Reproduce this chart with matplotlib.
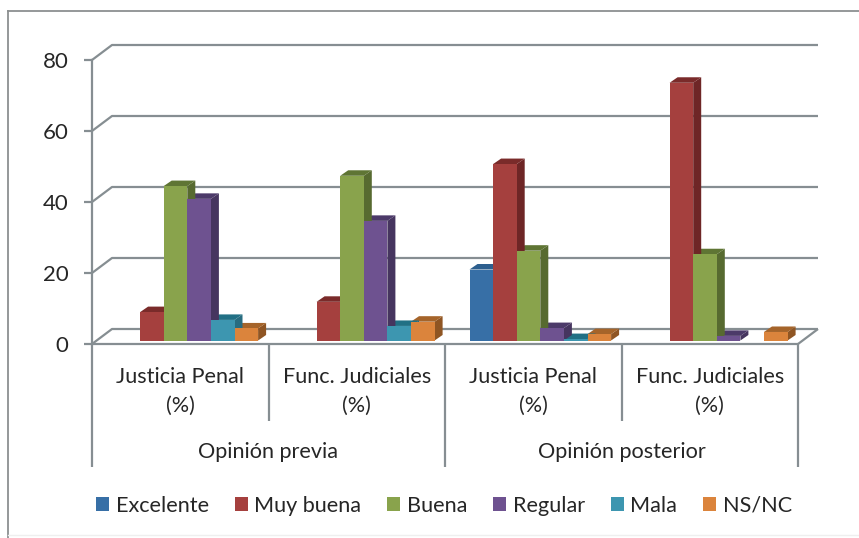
"""Opinion bars with a fake Excel-style 3D look, redrawn on a flat matplotlib axes."""

import matplotlib

matplotlib.use("Agg")
import matplotlib.pyplot as plt
from matplotlib.lines import Line2D
from matplotlib.patches import Patch

W, H = 859, 538

groups = ["Opinión previa", "Opinión posterior"]
categories = ["Justicia Penal\n(%)", "Func. Judiciales\n(%)", "Justicia Penal\n(%)", "Func. Judiciales\n(%)"]
series = ["Excelente", "Muy buena", "Buena", "Regular", "Mala", "NS/NC"]

excelente = [0, 0, 20.0, 0]
muy_buena = [8.0, 10.9, 49.7, 72.6]
buena = [43.5, 46.4, 25.3, 24.3]
regular = [39.9, 33.7, 3.5, 1.3]
mala = [5.8, 4.1, 0.4, 0]
ns_nc = [3.4, 5.3, 1.8, 2.4]
values = [excelente, muy_buena, buena, regular, mala, ns_nc]

yticks = [0, 20, 40, 60, 80]

FRONT = ["#376FA6", "#A5403E", "#89A34C", "#6E5290", "#3D96B0", "#DB843C"]
SIDE = ["#28527A", "#6E2626", "#576A30", "#46355F", "#286C80", "#8F5523"]
TOP = ["#2D5F8E", "#7A2B2A", "#5F7534", "#4C3A69", "#217085", "#A5642A"]
GRID = "#868E92"
TEXT = "#262626"

plt.rcParams["font.family"] = ["Lato", "DejaVu Sans"]
plt.rcParams["font.size"] = 15.6

X0, X1, Y0, Y1 = 92, 798, 344, 60  # plot box, in image pixels
CAT_PX = (X1 - X0) / len(categories)
UNIT_PX = (Y0 - Y1) / 80


def py(y):
    return (Y0 - y) / UNIT_PX


fig = plt.figure(figsize=(W / 100, H / 100), dpi=100)
ax = fig.add_axes([X0 / W, 1 - Y0 / H, (X1 - X0) / W, (Y0 - Y1) / H])
ax.set_xlim(0, len(categories))
ax.set_ylim(0, 80)
ax.patch.set_alpha(0)
for s in ("top", "right", "bottom"):
    ax.spines[s].set_visible(False)
ax.spines["left"].set(color=GRID, linewidth=1.6)
ax.set_xticks([])
ax.set_yticks(yticks)
ax.tick_params(axis="y", length=5.8, width=1.6, color=GRID, pad=11, labelsize=16, labelcolor=TEXT)

# outer chart frame
frame = dict(color="#8C9091", linewidth=1.3, transform=fig.transFigure)
fig.add_artist(Line2D([8 / W, 1], [1 - 11 / H, 1 - 11 / H], **frame))
fig.add_artist(Line2D([8 / W, 8 / W], [0, 1 - 11 / H], **frame))
fig.add_artist(Line2D([8 / W, 1], [1 - 535 / H, 1 - 535 / H], color="#EFEFEF", linewidth=1, transform=fig.transFigure))

# back wall gridlines and their diagonals
line = dict(color=GRID, linewidth=1.6, clip_on=False, solid_capstyle="butt", zorder=1)
dx_back, dy_back = 20 / CAT_PX, 15 / UNIT_PX
for t in yticks:
    ax.plot([0, dx_back, len(categories) + dx_back], [t, t + dy_back, t + dy_back], **line)
ax.plot([len(categories), len(categories) + dx_back], [0, dy_back], **line)
ax.plot([0, len(categories)], [0, 0], **line)

# multi-level category dividers
ax.plot([0, 0], [0, py(467)], **line)
ax.plot([2, 2], [0, py(467)], **line)
ax.plot([4, 4], [0, py(467)], **line)
ax.plot([1, 1], [0, py(421)], **line)
ax.plot([3, 3], [0, py(421)], **line)

bar_w = 23.6 / CAT_PX
start = 24.5 / CAT_PX
base = 3.5 / UNIT_PX
dx, dy = 8 / CAT_PX, 5.5 / UNIT_PX

for c in range(len(categories)):
    # sides and tops go right to left, fronts last, so overlaps read as depth
    for s in reversed(range(len(series))):
        v = values[s][c]
        if v <= 0:
            continue
        left = c + start + s * bar_w
        right = left + bar_w
        top = base + v
        ax.fill([right, right + dx, right + dx, right],
                [base, base + dy, top + dy, top], color=SIDE[s], lw=0, zorder=3)
        ax.fill([left, left + dx, right + dx, right],
                [top, top + dy, top + dy, top], color=TOP[s], lw=0, zorder=3)
    for s in range(len(series)):
        v = values[s][c]
        if v <= 0:
            continue
        ax.bar(c + start + s * bar_w, v, width=bar_w, bottom=base, align="edge",
               color=FRONT[s], linewidth=0, zorder=4)

for c, label in enumerate(categories):
    ax.text(c + 0.5, py(391), label, ha="center", va="center", color=TEXT,
            linespacing=1.55, clip_on=False)
for g, label in enumerate(groups):
    ax.text(2 * g + 1, py(452), label, ha="center", va="center", color=TEXT, clip_on=False)

handles = [Patch(color=c, linewidth=0) for c in FRONT]
fig.legend(handles, series, ncol=6, loc="center", bbox_to_anchor=(444 / W, 1 - 505.5 / H),
           frameon=False, handlelength=0.6, handleheight=0.6, handletextpad=0.3,
           columnspacing=1.2, labelcolor=TEXT, borderpad=0)

fig.savefig("out.png", dpi=100)
